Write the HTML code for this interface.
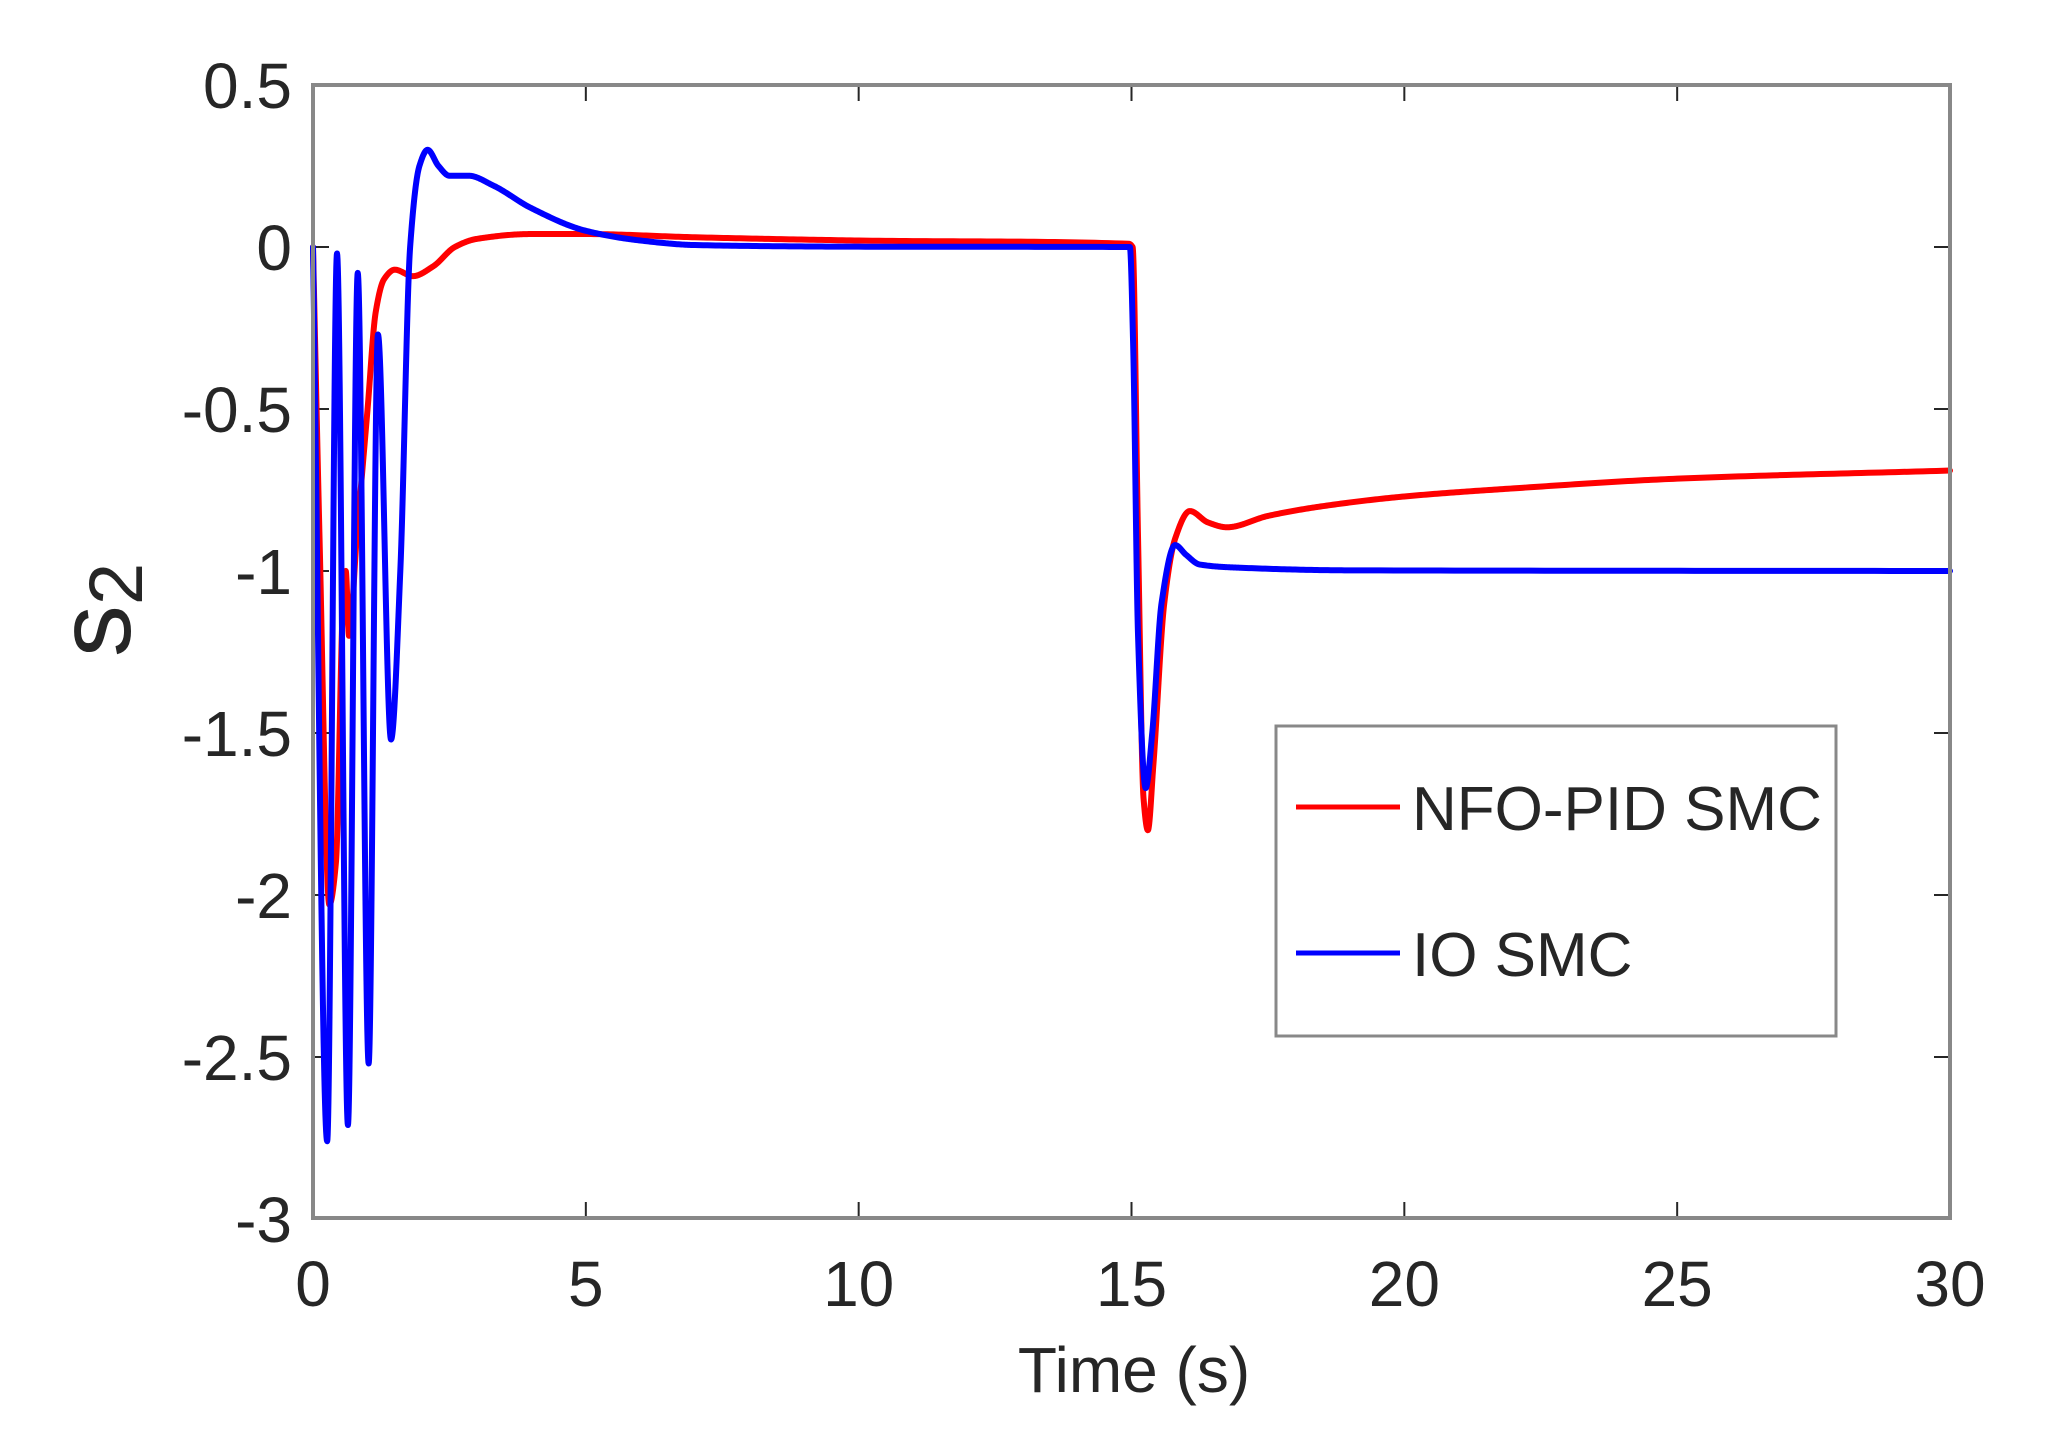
<!DOCTYPE html>
<html><head><meta charset="utf-8"><style>
html,body{margin:0;padding:0;background:#fff;}
svg{display:block;}
text{font-family:"Liberation Sans",Arial,sans-serif;fill:#262626;}
</style></head><body>
<svg id="s" width="2048" height="1455" viewBox="0 0 2048 1455" xmlns="http://www.w3.org/2000/svg">
<rect width="2048" height="1455" fill="#fff"/>
<g id="grid" stroke="#262626" stroke-width="2"></g>
<g id="series" fill="none" stroke-width="6" stroke-linejoin="round" stroke-linecap="round"></g>
<rect x="313" y="85" width="1637" height="1133" fill="none" stroke="#888" stroke-width="4"/>
<g id="labels" font-size="64"></g>
<text x="1134" y="1392" font-size="64" text-anchor="middle">Time (s)</text>
<text transform="translate(130,610) rotate(-90)" font-size="104" text-anchor="middle">s<tspan font-size="76" dy="12">2</tspan></text>
<rect x="1276" y="726" width="560" height="310" fill="#fff" stroke="#888" stroke-width="3"/>
<line x1="1296" y1="807" x2="1400" y2="807" stroke="#f00" stroke-width="5"/>
<line x1="1296" y1="953" x2="1400" y2="953" stroke="#00f" stroke-width="5"/>
<text x="1412" y="830" font-size="62" fill="#000">NFO-PID SMC</text>
<text x="1412" y="976" font-size="62" fill="#000">IO SMC</text>
</svg>
<script>
var X=function(t){return 313+t*1637/30;},Y=function(v){return 247-v*324;};
var g=document.getElementById('grid'),lb=document.getElementById('labels'),ns='http://www.w3.org/2000/svg';
function el(p,tag,a,txt){var e=document.createElementNS(ns,tag);for(var k in a)e.setAttribute(k,a[k]);if(txt!=null)e.textContent=txt;p.appendChild(e);return e;}
for(var t=0;t<=30;t+=5){var x=X(t);el(g,'line',{x1:x,y1:1218,x2:x,y2:1202});el(g,'line',{x1:x,y1:85,x2:x,y2:101});
el(lb,'text',{x:x,y:1306,'text-anchor':'middle'},String(t));}
for(var i=0;i<=7;i++){var v=0.5-i*0.5,y=Y(v);el(g,'line',{x1:313,y1:y,x2:329,y2:y});el(g,'line',{x1:1950,y1:y,x2:1934,y2:y});
var s=(v===0)?'0':(v.toString());el(lb,'text',{x:292,y:y+23,'text-anchor':'end'},s);}
function path(pts){
 var n=pts.length,xs=pts.map(function(p){return p[0]}),ys=pts.map(function(p){return p[1]});
 var d=[],m=[];for(var i=0;i<n-1;i++)d.push((ys[i+1]-ys[i])/(xs[i+1]-xs[i]));
 m[0]=d[0];m[n-1]=d[n-2];
 for(i=1;i<n-1;i++){ if(d[i-1]*d[i]<=0)m[i]=0; else {var w1=2*(xs[i+1]-xs[i])+(xs[i]-xs[i-1]),w2=(xs[i+1]-xs[i])+2*(xs[i]-xs[i-1]);m[i]=(w1+w2)/(w1/d[i-1]+w2/d[i]);}}
 var out='M'+X(xs[0])+','+Y(ys[0]);
 for(i=0;i<n-1;i++){var h=xs[i+1]-xs[i];
  for(var k=1;k<=40;k++){var s=k/40,h00=2*s*s*s-3*s*s+1,h10=s*s*s-2*s*s+s,h01=-2*s*s*s+3*s*s,h11=s*s*s-s*s;
   var v=h00*ys[i]+h10*h*m[i]+h01*ys[i+1]+h11*h*m[i+1];out+=' L'+X(xs[i]+s*h).toFixed(2)+','+Y(v).toFixed(2);}}
 return out;}
var red=[[0,0],[0.12,-0.9],[0.3,-2.03],[0.42,-1.9],[0.55,-1.1],[0.6,-1.0],[0.66,-1.2],[0.8,-0.9],[1.0,-0.5],[1.15,-0.2],[1.3,-0.1],[1.5,-0.07],[1.83,-0.09],[2.2,-0.06],[2.6,0.0],[3,0.025],[4,0.04],[5,0.04],[7,0.03],[10,0.02],[14.95,0.01],[15.02,0],[15.12,-0.9],[15.22,-1.7],[15.3,-1.8],[15.4,-1.6],[15.6,-1.1],[15.8,-0.9],[16.07,-0.815],[16.4,-0.85],[16.75,-0.865],[17.5,-0.83],[18.5,-0.8],[20,-0.77],[22,-0.745],[25,-0.715],[30,-0.69]];
var blue=[[0,0],[0.26,-2.76],[0.44,-0.02],[0.64,-2.71],[0.82,-0.08],[1.02,-2.52],[1.19,-0.27],[1.43,-1.52],[1.6,-1.0],[1.78,0],[1.95,0.25],[2.1,0.3],[2.3,0.25],[2.5,0.22],[2.85,0.22],[3.3,0.19],[4,0.12],[5,0.05],[6,0.02],[7,0.006],[10,0.001],[14.97,0],[15.03,-0.3],[15.12,-1.2],[15.26,-1.67],[15.38,-1.5],[15.55,-1.1],[15.8,-0.92],[16.0,-0.95],[16.25,-0.98],[17,-0.99],[19,-0.998],[30,-1.0]];
var sg=document.getElementById('series');
el(sg,'path',{d:path(red),stroke:'#f00'});
el(sg,'path',{d:path(blue),stroke:'#00f'});
</script>
</body></html>
